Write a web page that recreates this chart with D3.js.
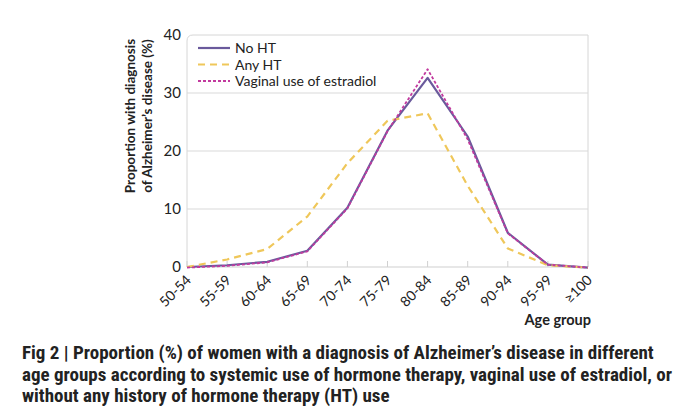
<!DOCTYPE html>
<html>
<head>
<meta charset="utf-8">
<script src="https://cdn.jsdelivr.net/npm/d3@7"></script>
<style>
  body { margin: 0; background: #fff; }
  svg { display: block; }
</style>
</head>
<body>
<div id="chart"></div>
<script>
var ageGroups = ['50-54', '55-59', '60-64', '65-69', '70-74', '75-79', '80-84', '85-89', '90-94', '95-99', '\u2265100'];
var noHT     = [0, 0.3, 0.9, 2.8, 10.2, 23.5, 32.6, 22.5, 5.9, 0.4, -0.1];
var anyHT    = [0, 1.3, 3.1, 8.7, 17.9, 25.2, 26.5, 14, 3.2, 0.3, -0.1];
var vaginal  = [-0.1, 0.2, 0.8, 2.7, 10.1, 23.4, 34.1, 22, 5.8, 0.4, -0.1];
var yTicks   = [0, 10, 20, 30, 40];

var series = [
    { name: 'No HT', values: noHT, color: '#6a5a9c', dash: null, width: 2.2 },
    { name: 'Any HT', values: anyHT, color: '#efc75a', dash: '7,5', width: 2.2 },
    { name: 'Vaginal use of estradiol', values: vaginal, color: '#c23a9e', dash: '3,2', width: 1.8 }
];

var W = 692, H = 410,
    plotL = 187, plotR = 588, plotT = 35, plotB = 267;

var svg = d3.select('#chart').append('svg')
    .attr('width', W)
    .attr('height', H);

var x = d3.scalePoint().domain(ageGroups).range([plotL, plotR]);
var y = d3.scaleLinear().domain([0, 40]).range([plotB, plotT]);

// plot frame + grid
svg.append('path')
    .attr('d', 'M' + plotL + ',' + plotB + 'V' + (plotT + 6) + 'Q' + plotL + ',' + plotT + ' ' + (plotL + 6) + ',' + plotT + 'H' + plotR + 'V' + plotB)
    .attr('fill', 'none')
    .attr('stroke', '#d6d6d6')
    .attr('stroke-width', 1);

svg.selectAll('.grid').data(yTicks.slice(1, -1)).enter().append('line')
    .attr('x1', plotL).attr('x2', plotR)
    .attr('y1', function (d) { return y(d); })
    .attr('y2', function (d) { return y(d); })
    .attr('stroke', '#d9d9d9');

svg.append('line')
    .attr('x1', plotL).attr('x2', plotR)
    .attr('y1', plotB).attr('y2', plotB)
    .attr('stroke', '#cfcfcf');

svg.selectAll('.xt').data(ageGroups).enter().append('line')
    .attr('x1', function (d) { return x(d); })
    .attr('x2', function (d) { return x(d); })
    .attr('y1', plotB).attr('y2', plotB - 6)
    .attr('stroke', '#d0d0d0');

// y tick labels
svg.selectAll('.yl').data(yTicks).enter().append('text')
    .attr('x', plotL - 6)
    .attr('y', function (d) { return y(d) + 5; })
    .attr('text-anchor', 'end')
    .attr('font-family', 'Lato, sans-serif')
    .attr('font-size', 15)
    .attr('fill', '#222')
    .text(function (d) { return d; });

// x tick labels
svg.selectAll('.xl').data(ageGroups).enter().append('text')
    .attr('transform', function (d) { return 'translate(' + (x(d) + 5) + ',' + (plotB + 14) + ') rotate(-45)'; })
    .attr('text-anchor', 'end')
    .attr('font-family', 'Lato, sans-serif')
    .attr('font-size', 14)
    .attr('fill', '#222')
    .text(function (d) { return d; });

// axis titles
var yTitle = svg.append('text')
    .attr('transform', 'translate(139,116) rotate(-90)')
    .attr('text-anchor', 'middle')
    .attr('font-family', 'Lato, sans-serif')
    .attr('font-weight', 'bold')
    .attr('font-size', 13.5)
    .attr('fill', '#222');
yTitle.append('tspan').attr('x', 0).attr('dy', -4).text('Proportion with diagnosis');
yTitle.append('tspan').attr('x', 0).attr('dy', 17).text('of Alzheimer\u2019s disease (%)');

svg.append('text')
    .attr('x', plotR + 3)
    .attr('y', 325)
    .attr('text-anchor', 'end')
    .attr('font-family', 'Lato, sans-serif')
    .attr('font-weight', 'bold')
    .attr('font-size', 14.5)
    .attr('fill', '#222')
    .text('Age group');

// lines
var line = d3.line()
    .x(function (d, i) { return x(ageGroups[i]); })
    .y(function (d) { return y(d); });

svg.selectAll('.series').data(series).enter().append('path')
    .attr('d', function (s) { return line(s.values); })
    .attr('fill', 'none')
    .attr('stroke', function (s) { return s.color; })
    .attr('stroke-width', function (s) { return s.width; })
    .attr('stroke-dasharray', function (s) { return s.dash; })
    .attr('stroke-linejoin', 'round');

// legend
var legend = svg.selectAll('.legend').data(series).enter().append('g')
    .attr('transform', function (s, i) { return 'translate(198,' + (48 + i * 16.5) + ')'; });
legend.append('line')
    .attr('x1', 0).attr('x2', 32)
    .attr('stroke', function (s) { return s.color; })
    .attr('stroke-width', function (s) { return s.width; })
    .attr('stroke-dasharray', function (s) { return s.dash; });
legend.append('text')
    .attr('x', 37)
    .attr('y', 5)
    .attr('font-family', 'Lato, sans-serif')
    .attr('font-size', 14)
    .attr('fill', '#222')
    .text(function (s) { return s.name; });

// caption
var caption = [
    'Fig 2 | Proportion (%) of women with a diagnosis of Alzheimer\u2019s disease in different',
    'age groups according to systemic use of hormone therapy, vaginal use of estradiol, or',
    'without any history of hormone therapy (HT) use'
];
svg.selectAll('.cap').data(caption).enter().append('text')
    .attr('x', 22)
    .attr('y', function (d, i) { return 359 + i * 21.5; })
    .attr('font-family', '"Liberation Sans Narrow", "Roboto Condensed", sans-serif')
    .attr('font-weight', 'bold')
    .attr('font-size', 19)
    .attr('fill', '#222')
    .text(function (d) { return d; });
</script>
</body>
</html>
